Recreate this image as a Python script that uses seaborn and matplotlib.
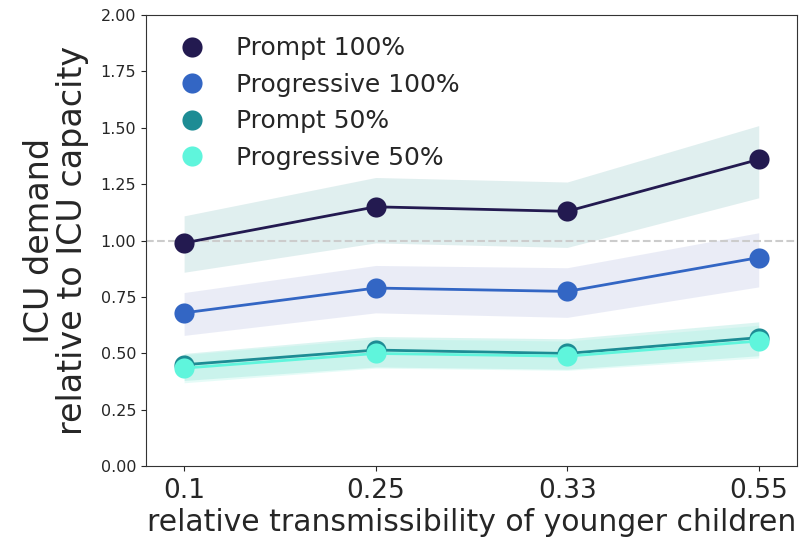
import numpy as np
import pandas as pd
import matplotlib
matplotlib.use("Agg")
import matplotlib.pyplot as plt
import seaborn as sns

x_labels = ["0.1", "0.25", "0.33", "0.55"]
series = ["Prompt 100%", "Progressive 100%", "Prompt 50%", "Progressive 50%"]

prompt100 = [0.99, 1.15, 1.13, 1.36]
prompt100_lo = [0.86, 0.99, 0.97, 1.19]
prompt100_hi = [1.11, 1.28, 1.26, 1.51]

progressive100 = [0.68, 0.79, 0.775, 0.925]
progressive100_lo = [0.58, 0.68, 0.66, 0.795]
progressive100_hi = [0.77, 0.89, 0.88, 1.035]

prompt50 = [0.45, 0.515, 0.50, 0.57]
prompt50_lo = [0.38, 0.44, 0.43, 0.49]
prompt50_hi = [0.50, 0.575, 0.565, 0.64]

progressive50 = [0.435, 0.50, 0.488, 0.555]
progressive50_lo = [0.37, 0.435, 0.425, 0.48]
progressive50_hi = [0.495, 0.565, 0.555, 0.625]

colors = ["#231a50", "#3366c4", "#1d8c94", "#5ff5dc"]
band_colors = ["#a8d2d2", "#c4cae8", "#5fd4c2", "#8ef0de"]
band_alpha = [0.35, 0.35, 0.22, 0.22]

values = [prompt100, progressive100, prompt50, progressive50]
lows = [prompt100_lo, progressive100_lo, prompt50_lo, progressive50_lo]
highs = [prompt100_hi, progressive100_hi, prompt50_hi, progressive50_hi]

rows = []
for s, vals in zip(series, values):
    for i, v in enumerate(vals):
        rows.append({"pos": i, "value": v, "series": s})
df = pd.DataFrame(rows)

sns.set_style("ticks")
plt.rcParams['font.family'] = ['DejaVu Sans']

fig = plt.figure(figsize=(8.1, 5.39), dpi=100)
ax = fig.add_axes([0.18, 0.135, 0.804, 0.837])

pos = np.arange(len(x_labels))
for lo, hi, bc, ba in zip(lows, highs, band_colors, band_alpha):
    ax.fill_between(pos, lo, hi, color=bc, alpha=ba, linewidth=0)

ax.axhline(1.0, color="#cccccc", linestyle="--", linewidth=1.5, zorder=1)

sns.lineplot(data=df, x="pos", y="value", hue="series", hue_order=series,
             palette=colors, marker="o", markersize=14.5, markeredgewidth=0,
             linewidth=2, ax=ax, legend=False, zorder=3)

handles = [plt.Line2D([], [], linestyle="", marker="o", markersize=14.5,
                      markerfacecolor=c, markeredgewidth=0) for c in colors]
ax.legend(handles, series, loc="upper left", frameon=False, fontsize=18,
          handletextpad=0.75, labelspacing=0.5, borderaxespad=0.45)

ax.set_xlim(-0.2, 3.2)
ax.set_ylim(0, 2.0)
ax.set_xticks(pos)
ax.set_xticklabels(x_labels, fontsize=19)
ax.tick_params(axis="x", pad=5)
ax.set_yticks(np.arange(0, 2.01, 0.25))
ax.set_yticklabels([f"{t:.2f}" for t in np.arange(0, 2.01, 0.25)], fontsize=11.5)
ax.set_xlabel("relative transmissibility of younger children", fontsize=21.5, labelpad=3)
ax.set_ylabel("ICU demand\nrelative to ICU capacity", fontsize=24, labelpad=8,
              linespacing=1.0)
for sp in ax.spines.values():
    sp.set_color("#333333")

fig.savefig("out.png", dpi=100)
